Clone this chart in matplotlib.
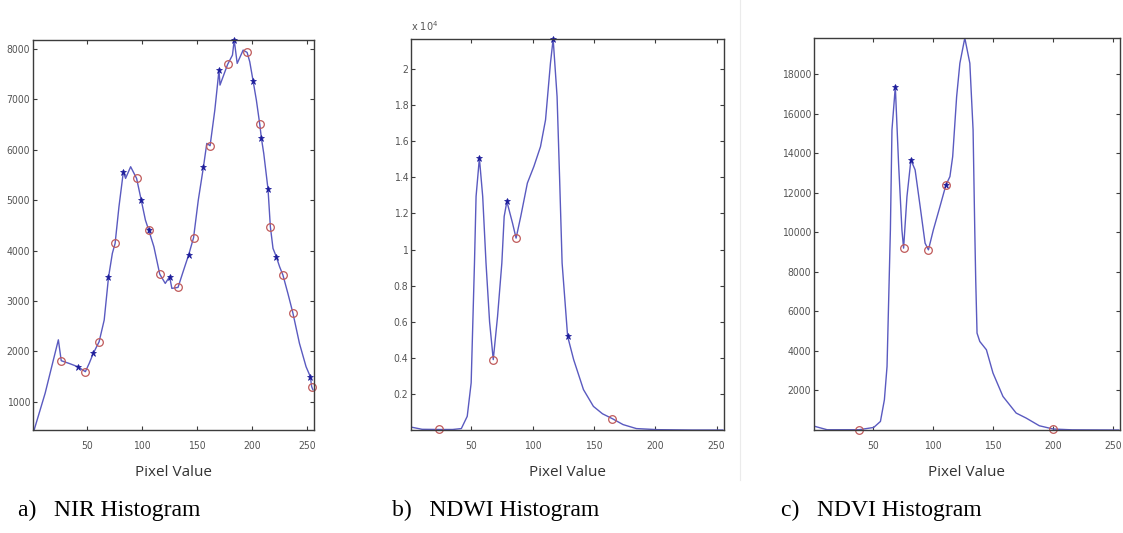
"""Three histogram panels (NIR, NDWI, NDVI) with peak/valley markers."""

import matplotlib
matplotlib.use("Agg")
import matplotlib.pyplot as plt
from matplotlib.ticker import FuncFormatter

LINE = "#5a5ac0"
STAR = "#1c1c9a"
RING = "#c05a5a"
FRAME = "#3c3c3c"
TICK_FONT = ["DejaVu Sans"]

# ---- NIR histogram (panel a)
nir_x = [2, 12, 18, 24, 26.6, 34, 41.6, 48.5, 52, 55.7, 61, 65.6, 69.5, 73, 75.5, 79,
         83, 85, 89.6, 95, 99.2, 103, 106, 110.7, 116, 121, 125, 127, 132.6, 137.7,
         142.2, 146.7, 151, 155.7, 158.7, 161.7, 166, 169.8, 170.7, 177.6, 182, 183.6,
         186.3, 191.7, 195.3, 197.7, 200.7, 203.7, 206.8, 208.3, 210.4, 214.3, 216.4,
         218.8, 221.8, 224.8, 227.8, 232.3, 236.8, 242.8, 248.8, 252.7, 253.9, 255]
nir_y = [440, 1170, 1700, 2230, 1816, 1760, 1697, 1598, 1763, 1962, 2193, 2623, 3469,
         3946, 4144, 4872, 5566, 5434, 5665, 5434, 5004, 4607, 4409, 4078, 3535, 3350,
         3483, 3251, 3271, 3615, 3913, 4256, 5004, 5665, 6128, 6082, 6790, 7583, 7286,
         7696, 7880, 8180, 7716, 7980, 7934, 7749, 7372, 6988, 6505, 6227, 5930, 5215,
         4475, 4045, 3880, 3680, 3516, 3152, 2768, 2160, 1697, 1498, 1300, 1240]
nir_max_x = [41.6, 55.7, 69.5, 83, 99.2, 106, 125, 142.2, 155.7, 169.8, 183.6, 200.7,
             208.3, 214.3, 221.8, 252.7]
nir_max_y = [1697, 1962, 3469, 5566, 5004, 4409, 3483, 3913, 5665, 7583, 8180, 7372,
             6227, 5215, 3880, 1498]
nir_min_x = [26.6, 48.5, 61, 75.5, 95, 106, 116, 132.6, 146.7, 161.7, 177.6, 195.3,
             206.8, 216.4, 227.8, 236.8, 253.9]
nir_min_y = [1816, 1598, 2193, 4144, 5434, 4409, 3535, 3271, 4256, 6082, 7696, 7934,
             6505, 4475, 3516, 2768, 1300]

# ---- NDWI histogram (panel b)
ndwi_x = [2, 10, 23.6, 35, 42, 46.8, 50, 52.7, 54, 56.7, 59.4, 62.1, 65, 68, 71.5, 75,
          76.9, 79.1, 83.7, 86.6, 90.4, 95.8, 101.1, 106.5, 110.6, 114.6, 116.8, 120,
          122.1, 124.1, 128.6, 133.5, 141.5, 149.6, 157, 165, 173.8, 184.6, 202, 230,
          255]
ndwi_y = [150, 40, 30, 30, 80, 760, 2610, 9250, 12940, 15060, 12940, 9250, 6000, 3900,
          6290, 9250, 11830, 12660, 11460, 10630, 11830, 13680, 14600, 15700, 17180,
          20320, 21660, 18470, 13860, 9250, 5190, 3900, 2240, 1310, 900, 630, 300, 80,
          20, 0, 0]
ndwi_max_x = [56.7, 79.1, 116.8, 128.6]
ndwi_max_y = [15060, 12660, 21660, 5190]
ndwi_min_x = [23.6, 68, 86.6, 165]
ndwi_min_y = [30, 3900, 10630, 630]

# ---- NDVI histogram (panel c)
ndvi_x = [2, 12, 38.4, 50.8, 56.4, 59.7, 61.9, 64.7, 66, 68.8, 71.5, 74.3, 75.7, 78.5,
          81.8, 85.3, 89.5, 93.6, 96.4, 100.5, 106, 111, 114.3, 116.6, 119.9, 122.6,
          126.7, 130.9, 133.6, 135, 135.8, 136.9, 139.2, 144.7, 150.2, 158.5, 169.5,
          177.8, 188.8, 200.4, 216, 255]
ndvi_y = [180, 14, 14, 130, 434, 1530, 3213, 10120, 15174, 17361, 13490, 10120, 9195,
          11803, 13657, 13152, 11298, 9448, 9110, 10120, 11298, 12394, 12813, 13824,
          16856, 18544, 19820, 18544, 15174, 10120, 7594, 4900, 4476, 4057, 2879, 1697,
          858, 605, 216, 50, 10, 0]
ndvi_max_x = [68.8, 81.8, 111]
ndvi_max_y = [17361, 13657, 12394]
ndvi_min_x = [38.4, 75.7, 96.4, 111, 200.4]
ndvi_min_y = [14, 9195, 9110, 12394, 50]

x_ticks = [50, 100, 150, 200, 250]
nir_ticks = [1000, 2000, 3000, 4000, 5000, 6000, 7000, 8000]
ndwi_ticks = [2000, 4000, 6000, 8000, 10000, 12000, 14000, 16000, 18000, 20000]
ndvi_ticks = [2000, 4000, 6000, 8000, 10000, 12000, 14000, 16000, 18000]

captions = ["a)   NIR Histogram", "b)   NDWI Histogram", "c)   NDVI Histogram"]


def draw_panel(ax, x, y, mx, my, nx, ny, yticks, ylim):
    ax.plot(x, y, color=LINE, linewidth=1.0)
    ax.plot(mx, my, linestyle="none", marker="*", markersize=5, color=STAR,
            markeredgewidth=0.5, clip_on=False)
    ax.plot(nx, ny, linestyle="none", marker="o", markersize=5.5, markerfacecolor="none",
            markeredgecolor=RING, markeredgewidth=0.9, clip_on=False)
    ax.set_xlim(1, 256)
    ax.set_ylim(*ylim)
    ax.set_xticks(x_ticks)
    ax.set_yticks(yticks)
    ax.tick_params(direction="in", length=3, width=0.8, color=FRAME, labelsize=7.5,
                   labelcolor="#555555", top=True, right=True)
    ax.tick_params(axis="x", pad=8)
    ax.tick_params(axis="y", pad=2)
    for lab in ax.get_xticklabels() + ax.get_yticklabels():
        lab.set_family(TICK_FONT)
        lab.set_stretch("condensed")
    for spine in ax.spines.values():
        spine.set_color(FRAME)
        spine.set_linewidth(1.0)
    ax.set_xlabel("Pixel Value", fontsize=11, family=["Open Sans", "DejaVu Sans"],
                  color="#333333", labelpad=10)


fig = plt.figure(figsize=(11.23, 5.33), dpi=100)
ax_a = fig.add_axes([0.0294, 0.1932, 0.2502, 0.7317])
ax_b = fig.add_axes([0.366, 0.1932, 0.2787, 0.7336])
ax_c = fig.add_axes([0.7248, 0.1932, 0.2725, 0.7355])

draw_panel(ax_a, nir_x, nir_y, nir_max_x, nir_max_y, nir_min_x, nir_min_y,
           nir_ticks, (440, 8180))
draw_panel(ax_b, ndwi_x, ndwi_y, ndwi_max_x, ndwi_max_y, ndwi_min_x, ndwi_min_y,
           ndwi_ticks, (0, 21660))
draw_panel(ax_c, ndvi_x, ndvi_y, ndvi_max_x, ndvi_max_y, ndvi_min_x, ndvi_min_y,
           ndvi_ticks, (0, 19820))

ax_b.yaxis.set_major_formatter(FuncFormatter(lambda v, _: f"{v / 1e4:g}"))
for lab in ax_b.get_yticklabels():
    lab.set_family(TICK_FONT)
    lab.set_stretch("condensed")
ax_b.text(0.0, 1.015, r"x 10$^4$", transform=ax_b.transAxes, fontsize=7,
          color="#555555", ha="left", va="bottom")

# thin separator between panels b and c
fig.add_artist(plt.Line2D([740 / 1123, 740 / 1123], [1 - 480 / 533, 1.0],
                          color="#ebebeb", linewidth=0.8))

for text, x0 in zip(captions, (18, 392, 781)):
    fig.text(x0 / 1123, 1 - 510 / 533, text, fontsize=17,
             family=["Liberation Serif", "DejaVu Serif"], ha="left", va="center")

fig.savefig("out.png", dpi=100)
